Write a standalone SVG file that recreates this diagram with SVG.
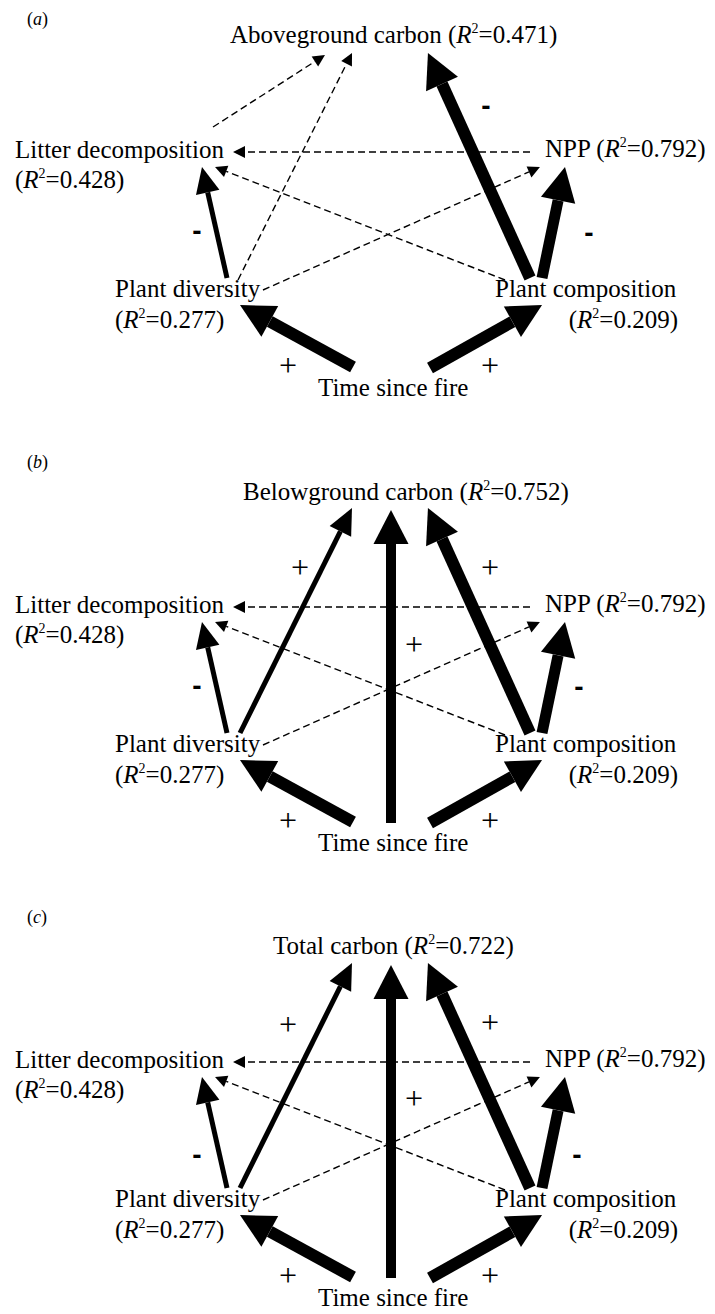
<svg xmlns="http://www.w3.org/2000/svg" width="715" height="1314" viewBox="0 0 715 1314">
<style>
.t{font-family:"Liberation Serif","Times New Roman",serif;font-size:25px;fill:#000}
.lab{font-family:"Liberation Serif","Times New Roman",serif;font-size:18px;fill:#000}
.i{font-style:italic}
.sup{font-size:14px}
.minus{font-family:"Liberation Sans",Arial,sans-serif;font-weight:bold;font-size:28px;text-anchor:middle;fill:#000}
.plus{font-family:"Liberation Serif","Times New Roman",serif;font-size:32px;text-anchor:middle;fill:#000}
.thick{stroke:#000;stroke-width:12;fill:none;marker-end:url(#hb)}
.thick2{stroke:#000;stroke-width:11;fill:none;marker-end:url(#hb)}
.vert{stroke:#000;stroke-width:10;fill:none;marker-end:url(#hb)}
.med{stroke:#000;stroke-width:5;fill:none;marker-end:url(#hm)}
.dash{stroke:#000;stroke-width:1.4;fill:none;stroke-dasharray:7 4;marker-end:url(#hs)}
</style>
<defs>
<marker id="hb" markerUnits="userSpaceOnUse" orient="auto" markerWidth="36" markerHeight="36" refX="0" refY="18" viewBox="0 0 36 36" overflow="visible"><path d="M0,0.5 L34,18 L0,35.5 z" fill="#000"/></marker>
<marker id="hm" markerUnits="userSpaceOnUse" orient="auto" markerWidth="28" markerHeight="24" refX="0" refY="12" viewBox="0 0 28 24" overflow="visible"><path d="M0,0 L26,12 L0,24 z" fill="#000"/></marker>
<marker id="hs" markerUnits="userSpaceOnUse" orient="auto" markerWidth="13" markerHeight="12" refX="0" refY="6" viewBox="0 0 13 12" overflow="visible"><path d="M0,0 L12,6 L0,12 z" fill="#000"/></marker>
</defs>

<!-- Panel a -->
<g id="panel-a">
  <text class="lab" x="27" y="25">(<tspan class="i">a</tspan>)</text>
  <g id="a-connectors">
    <path class="dash" d="M213,127 L314.9,61.5"/>
    <path class="dash" d="M238,280 L346.6,63.7"/>
    <path class="dash" d="M530,152 L245,152"/>
    <path class="dash" d="M505,280 L226.2,171.4"/>
    <path class="dash" d="M263,290 L529,171.9"/>
    <path class="thick" d="M530,278 L442,84"/>
    <path class="thick2" d="M542,278 L558.1,200.3"/>
    <path class="med" d="M227,278 L207.7,192.4"/>
    <path class="thick" d="M353,367 L269.8,321.4"/>
    <path class="thick" d="M430,368 L512.4,321.7"/>
    <text class="minus" x="486" y="115">-</text>
    <text class="minus" x="197" y="240">-</text>
    <text class="minus" x="589" y="242">-</text>
    <text class="plus" x="288" y="376">+</text>
    <text class="plus" x="490" y="376">+</text>
  </g>
  <g id="a-aboveground"><text class="t" x="230" y="43">Aboveground carbon (<tspan class="i">R</tspan><tspan class="sup" dy="-10">2</tspan><tspan dy="10">=0.471)</tspan></text></g>
  <g id="a-litter"><text class="t" x="15" y="158">Litter decomposition</text><text class="t" x="15" y="188">(<tspan class="i">R</tspan><tspan class="sup" dy="-10">2</tspan><tspan dy="10">=0.428)</tspan></text></g>
  <g id="a-npp"><text class="t" x="545" y="157">NPP (<tspan class="i">R</tspan><tspan class="sup" dy="-10">2</tspan><tspan dy="10">=0.792)</tspan></text></g>
  <g id="a-diversity"><text class="t" x="115" y="297">Plant diversity</text><text class="t" x="115" y="328">(<tspan class="i">R</tspan><tspan class="sup" dy="-10">2</tspan><tspan dy="10">=0.277)</tspan></text></g>
  <g id="a-composition"><text class="t" x="495" y="297">Plant composition</text><text class="t" x="678" y="328" text-anchor="end">(<tspan class="i">R</tspan><tspan class="sup" dy="-10">2</tspan><tspan dy="10">=0.209)</tspan></text></g>
  <g id="a-time"><text class="t" x="318" y="396">Time since fire</text></g>
</g>

<!-- Panel b -->
<g id="panel-b" transform="translate(0,455)">
  <text class="lab" x="27" y="13">(<tspan class="i">b</tspan>)</text>
  <g id="b-connectors">
    <path class="dash" d="M530,152 L245,152"/>
    <path class="dash" d="M505,280 L226.2,171.4"/>
    <path class="dash" d="M263,290 L529,171.9"/>
    <path class="med" d="M240,278 L340.4,76.3"/>
    <path class="vert" d="M391,368 L391,89"/>
    <path class="thick" d="M530,278 L442,84"/>
    <path class="thick2" d="M542,278 L558.1,200.3"/>
    <path class="med" d="M227,278 L207.7,192.4"/>
    <path class="thick" d="M353,367 L269.8,321.4"/>
    <path class="thick" d="M430,368 L512.4,321.7"/>
    <text class="plus" x="300" y="123">+</text>
    <text class="plus" x="490" y="123">+</text>
    <text class="plus" x="414" y="200">+</text>
    <text class="minus" x="197" y="240">-</text>
    <text class="minus" x="579" y="241">-</text>
    <text class="plus" x="288" y="376">+</text>
    <text class="plus" x="490" y="376">+</text>
  </g>
  <g id="b-belowground"><text class="t" x="243" y="45">Belowground carbon (<tspan class="i">R</tspan><tspan class="sup" dy="-10">2</tspan><tspan dy="10">=0.752)</tspan></text></g>
  <g id="b-litter"><text class="t" x="15" y="158">Litter decomposition</text><text class="t" x="15" y="188">(<tspan class="i">R</tspan><tspan class="sup" dy="-10">2</tspan><tspan dy="10">=0.428)</tspan></text></g>
  <g id="b-npp"><text class="t" x="545" y="157">NPP (<tspan class="i">R</tspan><tspan class="sup" dy="-10">2</tspan><tspan dy="10">=0.792)</tspan></text></g>
  <g id="b-diversity"><text class="t" x="115" y="297">Plant diversity</text><text class="t" x="115" y="328">(<tspan class="i">R</tspan><tspan class="sup" dy="-10">2</tspan><tspan dy="10">=0.277)</tspan></text></g>
  <g id="b-composition"><text class="t" x="495" y="297">Plant composition</text><text class="t" x="678" y="328" text-anchor="end">(<tspan class="i">R</tspan><tspan class="sup" dy="-10">2</tspan><tspan dy="10">=0.209)</tspan></text></g>
  <g id="b-time"><text class="t" x="318" y="396">Time since fire</text></g>
</g>

<!-- Panel c -->
<g id="panel-c" transform="translate(0,910)">
  <text class="lab" x="27" y="13">(<tspan class="i">c</tspan>)</text>
  <g id="c-connectors">
    <path class="dash" d="M530,152 L245,152"/>
    <path class="dash" d="M505,280 L226.2,171.4"/>
    <path class="dash" d="M263,290 L529,171.9"/>
    <path class="med" d="M240,278 L340.4,76.3"/>
    <path class="vert" d="M391,368 L391,89"/>
    <path class="thick" d="M530,278 L442,84"/>
    <path class="thick2" d="M542,278 L558.1,200.3"/>
    <path class="med" d="M227,278 L207.7,192.4"/>
    <path class="thick" d="M353,367 L269.8,321.4"/>
    <path class="thick" d="M430,368 L512.4,321.7"/>
    <text class="plus" x="288" y="125">+</text>
    <text class="plus" x="490" y="123">+</text>
    <text class="plus" x="414" y="199">+</text>
    <text class="minus" x="197" y="254">-</text>
    <text class="minus" x="577" y="254">-</text>
    <text class="plus" x="288" y="376">+</text>
    <text class="plus" x="490" y="376">+</text>
  </g>
  <g id="c-total"><text class="t" x="273" y="44">Total carbon (<tspan class="i">R</tspan><tspan class="sup" dy="-10">2</tspan><tspan dy="10">=0.722)</tspan></text></g>
  <g id="c-litter"><text class="t" x="15" y="158">Litter decomposition</text><text class="t" x="15" y="188">(<tspan class="i">R</tspan><tspan class="sup" dy="-10">2</tspan><tspan dy="10">=0.428)</tspan></text></g>
  <g id="c-npp"><text class="t" x="545" y="157">NPP (<tspan class="i">R</tspan><tspan class="sup" dy="-10">2</tspan><tspan dy="10">=0.792)</tspan></text></g>
  <g id="c-diversity"><text class="t" x="115" y="297">Plant diversity</text><text class="t" x="115" y="328">(<tspan class="i">R</tspan><tspan class="sup" dy="-10">2</tspan><tspan dy="10">=0.277)</tspan></text></g>
  <g id="c-composition"><text class="t" x="495" y="297">Plant composition</text><text class="t" x="678" y="328" text-anchor="end">(<tspan class="i">R</tspan><tspan class="sup" dy="-10">2</tspan><tspan dy="10">=0.209)</tspan></text></g>
  <g id="c-time"><text class="t" x="318" y="396">Time since fire</text></g>
</g>
</svg>
